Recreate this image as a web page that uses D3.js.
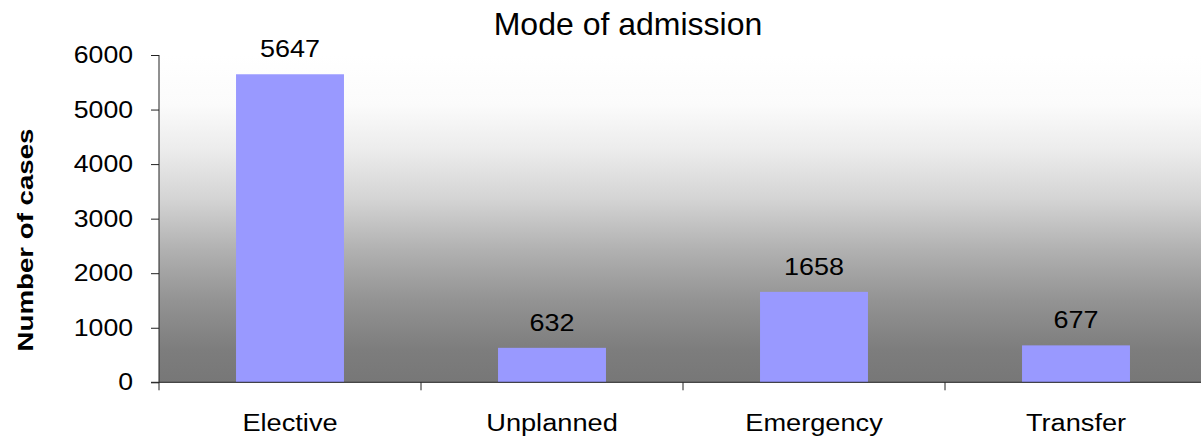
<!DOCTYPE html>
<html>
<head>
<meta charset="utf-8">
<script src="https://cdn.jsdelivr.net/npm/d3@7"></script>
<style>
  html, body { margin: 0; padding: 0; background: #fff; }
  svg { display: block; font-family: "Liberation Sans", Arial, sans-serif; }
</style>
</head>
<body>
<svg id="chart" width="1201" height="438"></svg>
<script>
// Admissions by mode
const categories = ["Elective", "Unplanned", "Emergency", "Transfer"];
const cases = [5647, 632, 1658, 677];
const yTicks = [0, 1000, 2000, 3000, 4000, 5000, 6000];
const chartTitle = "Mode of admission";
const yTitle = "Number of cases";

const svg = d3.select("#chart");
const plotLeft = 159, plotRight = 1207, plotTop = 55, plotBottom = 382.3;
const FONT = "Liberation Sans, Arial, sans-serif";

// widen glyphs along the text direction, keeping the anchor point in place
function widen(sel, sx) {
  sel.each(function () {
    const t = d3.select(this);
    const x0 = +t.attr("x") || 0;
    t.attr("x", x0 / sx)
     .attr("transform", ((t.attr("transform") || "") + ` scale(${sx},1)`).trim());
  });
}

const x = d3.scaleBand().domain(categories).range([plotLeft, plotRight])
  .paddingInner(0.588).paddingOuter(0.294);
const xCat = d3.scaleBand().domain(categories).range([plotLeft, plotRight]).padding(0);
const y = d3.scaleLinear().domain([0, 6000]).range([plotBottom, plotTop]);

// background gradient of the plot area
const defs = svg.append("defs");
const grad = defs.append("linearGradient").attr("id", "bg")
  .attr("x1", 0).attr("y1", 0).attr("x2", 0).attr("y2", 1);
[[0, "#ffffff"], [0.15, "#fbfbfb"], [0.29, "#ececec"], [0.44, "#d4d4d4"],
 [0.6, "#b0b0b0"], [0.75, "#939393"], [0.9, "#7d7d7d"], [1, "#777777"]]
  .forEach(([o, c]) => grad.append("stop").attr("offset", o).attr("stop-color", c));

svg.append("rect")
  .attr("x", plotLeft).attr("y", plotTop)
  .attr("width", plotRight - plotLeft).attr("height", plotBottom - plotTop)
  .attr("fill", "url(#bg)");

// bars
svg.append("g").selectAll("rect").data(categories).join("rect")
  .attr("x", d => x(d))
  .attr("y", (d, i) => y(cases[i]))
  .attr("width", x.bandwidth())
  .attr("height", (d, i) => y(0) - y(cases[i]))
  .attr("fill", "#9999ff");

// value labels
svg.append("g").selectAll("text").data(categories).join("text")
  .attr("x", d => x(d) + x.bandwidth() / 2)
  .attr("y", (d, i) => y(cases[i]) - 17)
  .attr("text-anchor", "middle")
  .attr("font-size", 24.5)
  .attr("fill", "#000")
  .text((d, i) => cases[i])
  .call(widen, 1.1);

// y axis
const yAxis = svg.append("g").attr("transform", `translate(${plotLeft},0)`)
  .call(d3.axisLeft(y).tickValues(yTicks).tickSize(8).tickPadding(18).tickFormat(d3.format("d")));
yAxis.select(".domain").attr("d", `M0,${plotTop}V${plotBottom + 8}`).attr("stroke", "#222");
yAxis.selectAll(".tick line").attr("stroke", "#222");
yAxis.selectAll(".tick text").attr("font-size", 24).attr("fill", "#000")
  .attr("font-family", FONT)
  .call(widen, 1.11);

// x axis
const xAxis = svg.append("g").attr("transform", `translate(0,${plotBottom})`)
  .call(d3.axisBottom(xCat).tickSize(0).tickPadding(31));
xAxis.select(".domain").attr("d", `M${plotLeft - 8},0H1201`).attr("stroke", "#222");
xAxis.selectAll(".tick text").attr("font-size", 24.5).attr("fill", "#000")
  .attr("font-family", FONT)
  .call(widen, 1.11);
xAxis.append("g").selectAll("line").data(categories.slice(1)).join("line")
  .attr("x1", d => xCat(d)).attr("x2", d => xCat(d))
  .attr("y1", 0).attr("y2", 8).attr("stroke", "#222");

// titles
svg.append("text")
  .attr("x", 628).attr("y", 35)
  .attr("text-anchor", "middle")
  .attr("font-size", 32)
  .attr("fill", "#000")
  .text(chartTitle);

svg.append("text")
  .attr("transform", `translate(33,240) rotate(-90)`)
  .attr("text-anchor", "middle")
  .attr("font-size", 22.5)
  .attr("font-weight", "bold")
  .attr("fill", "#000")
  .text(yTitle)
  .call(widen, 1.23);
</script>
</body>
</html>
